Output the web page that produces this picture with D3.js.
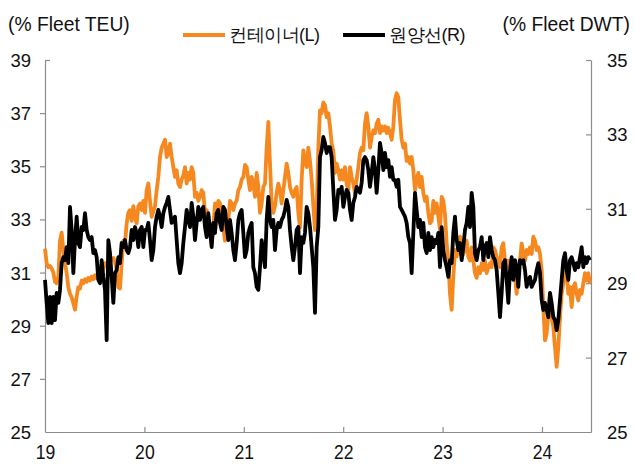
<!DOCTYPE html>
<html><head><meta charset="utf-8">
<script src="https://cdn.jsdelivr.net/npm/d3@7/dist/d3.min.js"></script>
<style>
body{margin:0;background:#fff}
svg text{font-family:"Liberation Sans",Arial,sans-serif;fill:#111}
</style>
</head><body>
<svg id="chart" width="635" height="464"></svg>
<script>
// ---- data ----
const startYear = 2019;
const stepYears = 0.016767;   // sampling step (~weekly)
const yearTicks = [2019, 2020, 2021, 2022, 2023, 2024];
const yearLabels = ["19", "20", "21", "22", "23", "24"];
const leftTicks = [25, 27, 29, 31, 33, 35, 37, 39];
const rightTicks = [25, 27, 29, 31, 33, 35];
const seriesNames = ["컨테이너(L)", "원양선(R)"];

// Container ship (% fleet TEU), left axis
const teu2019 = [31.9,31.35,31.2,31.25,31.15,31.0,30.65,30.6,30.85,32.2,
32.5,31.85,31.35,30.98,30.45,30.2,30.08,29.85,29.6,30.1,
30.45,30.4,30.7,30.6,30.75,30.65,30.8,30.7,30.85,30.75,
30.9,30.8,30.95,31.1,31.0,31.15,31.35,31.25,31.4,31.45,
31.5,31.55,31.4,31.1,30.45,30.4,31.35,32.2,32.1,32.85,
33.25,33.35,32.95,33.5,33.1,32.85,33.5,33.6,33.35,33.7,
33.25];
const teu2020 = [34.1,34.35,33.7,33.1,33.3,33.5,34.1,34.6,35.35,35.7,
35.85,36.0,35.35,35.5,35.85,35.35,34.97,34.6,34.85,34.35,
34.22,34.5,34.65,34.97,34.35,34.75,34.5,34.97,34.75,33.85,
34.0,33.7,33.85,34.1,34.0,33.25,33.35,32.95,32.7,32.1,
32.7,33.6,33.35,33.7,33.6,33.35,32.7,32.2,33.1,32.95,
33.7,33.6,33.35,33.6,33.7,34.1,34.22,34.5,34.6,35.05];
const teu2021 = [34.97,34.5,34.1,34.6,34.35,33.85,34.75,34.22,33.25,33.6,
34.22,34.35,35.7,36.67,35.1,33.6,33.25,33.5,34.0,34.35,
34.1,33.6,34.1,34.6,35.1,34.75,34.22,34.0,33.85,34.1,
34.22,33.25,32.7,34.5,35.6,35.2,34.97,35.7,35.2,34.5,
33.5,32.6,33.25,35.7,37.1,37.0,37.4,37.3,36.85,37.0,
36.5,35.85,35.6,34.75,35.1,34.85,34.5,34.85,34.5,34.97];
const teu2022 = [34.35,34.1,34.97,34.6,34.35,34.0,34.5,34.97,35.5,35.7,
35.6,36.6,37.0,36.5,35.7,36.1,36.35,36.25,36.6,36.75,
36.25,36.5,36.35,36.5,36.25,36.45,36.25,36.0,36.5,37.5,
37.75,37.6,36.75,36.0,35.7,35.85,35.2,35.35,35.1,35.35,
34.85,34.1,34.5,34.75,34.22,34.6,34.0,33.7,33.85,33.25,
32.85,32.95,33.7,33.25,33.6,33.1,32.6,33.85,33.7,33.2];
const teu2023 = [32.1,31.45,30.2,29.6,30.85,31.85,31.6,31.95,32.35,31.6,
31.7,31.85,32.2,31.6,31.45,31.95,31.45,30.98,30.8,31.2,
30.98,31.35,31.1,31.45,30.98,31.2,31.35,31.2,31.95,31.85,
31.6,31.45,31.2,31.95,32.1,31.45,31.2,31.45,31.2,31.35,
31.1,30.85,30.2,31.1,31.45,32.1,31.7,31.45,31.85,31.7,
31.95,31.7,32.35,32.2,31.85,31.95,31.7,31.1,29.7,28.45,
28.7,29.45,30.2,29.3,28.95,28.2,27.45,28.2,29.3,30.2,
30.6,31.1,30.98,30.2,30.45,29.7,30.45,30.6,30.2,29.95,
30.35,30.2,30.6,30.98,30.7,30.98,30.6];

// Deep-sea ships (% fleet DWT), right axis
const dwt2019 = [29.09,28.47,27.93,28.63,27.93,28.63,28.01,28.74,28.47,28.82,
29.54,29.7,29.62,29.97,29.54,31.05,30.43,29.27,30.16,30.79,
30.08,29.97,30.51,30.43,30.88,30.43,30.24,30.16,30.24,29.81,
29.89,29.7,29.09,29.0,29.62,29.17,28.82,27.47,30.16,29.81,
29.17,28.47,29.27,29.35,29.7,29.54,30.08,29.97,30.16,29.89,
29.81,29.97,30.43,30.16,30.51,30.35,29.97,30.43,30.51,29.97,
30.43];
const dwt2020 = [30.43,30.62,30.16,29.62,29.89,30.51,30.79,30.97,30.79,30.51,
30.88,31.05,31.16,31.32,30.97,30.62,30.70,30.79,30.16,29.54,
29.27,29.54,30.08,30.51,30.97,30.70,30.51,31.16,30.79,30.16,
30.62,31.05,30.70,30.97,31.05,30.51,30.24,30.88,30.43,29.97,
30.62,30.35,30.88,30.97,30.62,30.43,31.05,30.97,30.51,30.16,
30.70,30.35,29.89,29.62,30.08,30.70,30.88,30.97,30.35,29.7];
const dwt2021 = [29.89,30.35,30.51,30.62,29.43,29.27,28.9,28.82,29.43,30.16,
29.81,29.43,30.70,31.32,30.70,30.51,30.70,29.89,30.43,30.62,
30.51,30.70,30.79,30.97,31.24,31.05,30.43,29.97,29.62,29.97,
30.43,30.51,29.27,30.24,30.08,30.35,31.05,30.88,30.51,29.97,
29.43,28.2,29.97,30.51,32.39,32.58,32.93,32.77,32.5,32.66,
32.66,32.39,31.51,30.70,30.97,31.51,31.43,31.59,31.05,31.32];
const dwt2022 = [31.51,31.43,30.97,30.70,31.16,31.32,31.59,31.51,31.43,31.7,
32.31,32.39,32.31,32.04,31.59,31.96,32.39,32.04,31.43,32.04,
32.77,32.5,32.04,32.5,32.12,32.31,31.86,32.12,31.78,31.78,
31.59,31.78,31.05,30.97,30.88,30.79,30.62,30.24,30.08,29.27,
30.35,31.43,30.97,30.51,30.70,30.24,30.62,29.97,29.81,30.35,
29.89,30.24,29.97,30.16,30.08,30.35,29.43,30.51,29.89,29.62];
const dwt2023 = [29.43,29.17,29.62,29.54,30.35,30.79,30.16,29.89,30.08,29.62,
29.97,30.43,30.62,31.05,30.51,31.43,31.05,29.81,29.62,29.89,
29.97,30.24,29.62,29.97,30.08,29.70,30.24,29.89,29.70,29.62,
29.35,28.74,28.09,28.74,29.54,29.62,29.09,28.47,29.35,29.70,
29.09,29.62,29.43,28.9,29.62,29.54,29.62,29.35,28.9,29.09,
29.17,28.9,29.0,29.09,29.35,29.54,29.27,28.55,28.28,28.47,
28.28,28.09,28.74,28.47,28.09,28.01,27.74,28.01,28.55,29.09,
29.62,29.81,29.35,29.09,29.62,29.70,29.54,29.35,29.54,29.43,
29.70,29.97,29.43,29.70,29.54,29.70,29.62];

const teuValues = [].concat(teu2019, teu2020, teu2021, teu2022, teu2023);
const dwtValues = [].concat(dwt2019, dwt2020, dwt2021, dwt2022, dwt2023);

// ---- chart ----
const svg = d3.select("#chart");
const plot = {left: 45, right: 591, top: 60, bottom: 432};
const axisColor = "#8c8c8c";
const orange = "#F5891F";

const xEnd = startYear + 5.493;
const x = d3.scaleLinear().domain([startYear, xEnd]).range([plot.left, plot.right]);
const yL = d3.scaleLinear().domain([25, 39]).range([plot.bottom, plot.top]);
const yR = d3.scaleLinear().domain([25, 35]).range([plot.bottom, plot.top]);

const teuData = teuValues.map((v, i) => ({t: startYear + i * stepYears, v}));
const dwtData = dwtValues.map((v, i) => ({t: startYear + i * stepYears, v}));

// axes
const gL = svg.append("g").attr("transform", `translate(${plot.left},0)`)
  .call(d3.axisLeft(yL).tickValues(leftTicks).tickSize(5).tickPadding(9).tickSizeOuter(0));
const gR = svg.append("g").attr("transform", `translate(${plot.right},0)`)
  .call(d3.axisRight(yR).tickValues(rightTicks).tickSize(-5).tickPadding(16).tickSizeOuter(0));
const gB = svg.append("g").attr("transform", `translate(0,${plot.bottom})`)
  .call(d3.axisBottom(x).tickValues(yearTicks).tickFormat((d, i) => yearLabels[i])
    .tickSize(-5).tickPadding(13.3).tickSizeOuter(0));

[gL, gR, gB].forEach(g => {
  g.selectAll("path.domain").attr("stroke", axisColor).attr("stroke-width", 1.2);
  g.selectAll(".tick line").attr("stroke", axisColor).attr("stroke-width", 1.2);
  g.selectAll(".tick text").attr("fill", "#111")
    .attr("font-family", '"Liberation Sans", Arial, sans-serif');
});
gL.selectAll(".tick text").attr("font-size", 18.5).attr("dy", "0.35em");
gR.selectAll(".tick text").attr("font-size", 18.5).attr("dy", "0.35em");
gB.selectAll(".tick text").attr("font-size", 20).attr("dy", "0.71em")
  .attr("transform", "scale(0.88,1)");
// ticks at the corners are not drawn; the top-left tick points inward
gB.selectAll(".tick").filter(d => d === startYear).select("line").remove();
gL.selectAll(".tick").filter(d => d === 25).select("line").remove();
gR.selectAll(".tick").filter(d => d === 25).select("line").remove();
gL.selectAll(".tick").filter(d => d === 39).select("line").attr("x2", 5);

// lines
const lineL = d3.line().x(d => x(d.t)).y(d => yL(d.v));
const lineR = d3.line().x(d => x(d.t)).y(d => yR(d.v));

svg.append("path").datum(teuData).attr("d", lineL)
  .attr("fill", "none").attr("stroke", orange).attr("stroke-width", 3.8)
  .attr("stroke-linejoin", "round");
svg.append("path").datum(dwtData).attr("d", lineR)
  .attr("fill", "none").attr("stroke", "#000").attr("stroke-width", 3.8)
  .attr("stroke-linejoin", "round");

// axis titles
svg.append("text").attr("x", 8).attr("y", 31).attr("font-size", 19.3).text("(% Fleet TEU)");
svg.append("text").attr("x", 630).attr("y", 31).attr("font-size", 19.3)
  .attr("text-anchor", "end").text("(% Fleet DWT)");

// legend
const legend = [
  {name: seriesNames[0], color: orange, x0: 183},
  {name: seriesNames[1], color: "#000", x0: 343}
];
const lg = svg.append("g");
legend.forEach(d => {
  lg.append("line").attr("x1", d.x0).attr("x2", d.x0 + 42).attr("y1", 35).attr("y2", 35)
    .attr("stroke", d.color).attr("stroke-width", 3.8);
  lg.append("text").attr("x", d.x0 + 46).attr("y", 41).attr("font-size", 18)
    .attr("font-family", '"Noto Sans CJK KR", "Liberation Sans", sans-serif')
    .attr("letter-spacing", "-0.5").text(d.name);
});
</script>
</body></html>
